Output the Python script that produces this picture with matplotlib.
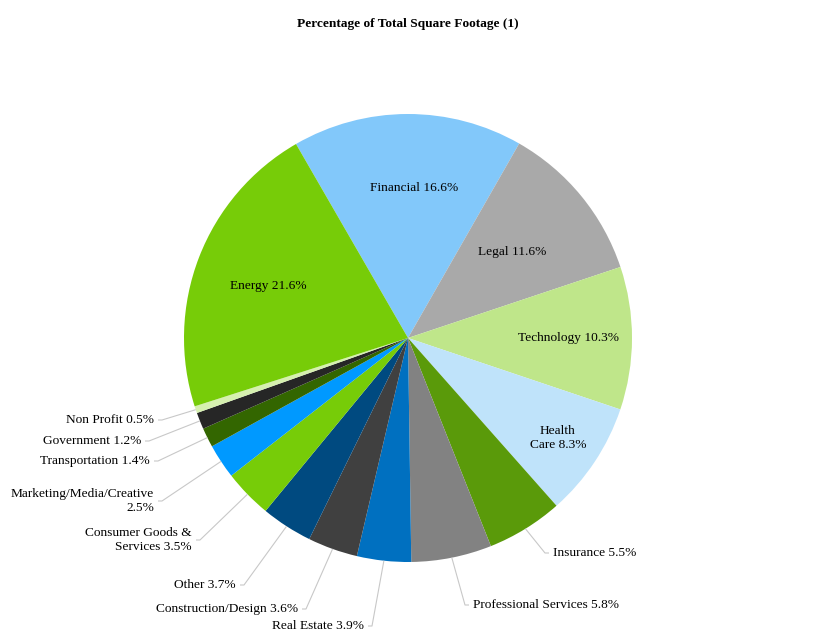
import numpy as np
import matplotlib.pyplot as plt

plt.rcParams['font.family'] = ['Liberation Serif', 'DejaVu Serif']

# sectors in clockwise order starting from Financial
sectors = ['Financial', 'Legal', 'Technology', 'Health Care', 'Insurance',
           'Professional Services', 'Real Estate', 'Construction/Design', 'Other',
           'Consumer Goods & Services', 'Marketing/Media/Creative', 'Transportation',
           'Government', 'Non Profit', 'Energy']
shares = [16.6, 11.6, 10.3, 8.3, 5.5, 5.8, 3.9, 3.6, 3.7, 3.5, 2.5, 1.4, 1.2, 0.5, 21.6]
labels = ['Financial 16.6%', 'Legal 11.6%', 'Technology 10.3%', 'Health\nCare 8.3%',
          'Insurance 5.5%', 'Professional Services 5.8%', 'Real Estate 3.9%',
          'Construction/Design 3.6%', 'Other 3.7%', 'Consumer Goods &\nServices 3.5%',
          'Marketing/Media/Creative\n2.5%', 'Transportation 1.4%', 'Government 1.2%',
          'Non Profit 0.5%', 'Energy 21.6%']
colors = ['#82c8fa', '#a9a9a9', '#bfe68a', '#bfe3fa', '#5a9a0a', '#828282', '#0070c0',
          '#404040', '#004a80', '#77cc08', '#0099ff', '#336600', '#262626', '#d6f0b0',
          '#77cc08']

W, H = 816, 636
cx, cy, r = 408, H - 338, 224
FS = 9.6

fig = plt.figure(figsize=(8.16, 6.36), dpi=100)
ax = fig.add_axes([0, 0, 1, 1])

wedges, _ = ax.pie(shares, colors=colors, startangle=120, counterclock=False,
                   center=(cx, cy), radius=r, frame=True)
ax.set_xlim(0, W)
ax.set_ylim(0, H)
ax.set_aspect('equal')
ax.axis('off')

# label placement (pixels from top-left): inside labels and outside labels with leaders
inside = {0: (414, 188), 1: (512, 252), 2: (568, 338), 3: (558, 438), 14: (268, 286)}
outside = {
    4: (553, 553, 'left'),
    5: (473, 605, 'left'),
    6: (364, 626, 'right'),
    7: (298, 609, 'right'),
    8: (236, 585, 'right'),
    9: (192, 540, 'right'),
    10: (154, 501, 'right'),
    11: (150, 461, 'right'),
    12: (141, 441, 'right'),
    13: (154, 420, 'right'),
}

for i, w in enumerate(wedges):
    mid = np.deg2rad((w.theta1 + w.theta2) / 2)
    if i in inside:
        x, y = inside[i]
        ax.text(x, H - y, labels[i], ha='center', va='center', fontsize=FS,
                linespacing=1.2)
    else:
        x, y, ha = outside[i]
        ex, ey = cx + r * np.cos(mid), cy + r * np.sin(mid)
        step = 4 if ha == 'left' else -4
        ax.plot([ex, x - 2 * step, x - step], [ey, H - y, H - y],
                color='#c8c8c8', lw=0.8, solid_capstyle='butt')
        ax.text(x, H - y, labels[i], ha=ha, va='center', fontsize=FS,
                linespacing=1.2, multialignment='right' if ha == 'right' else 'left')

ax.text(408, H - 24, 'Percentage of Total Square Footage (1)', ha='center',
        va='center', fontsize=FS, fontweight='bold')

fig.savefig('out.png', dpi=100)
